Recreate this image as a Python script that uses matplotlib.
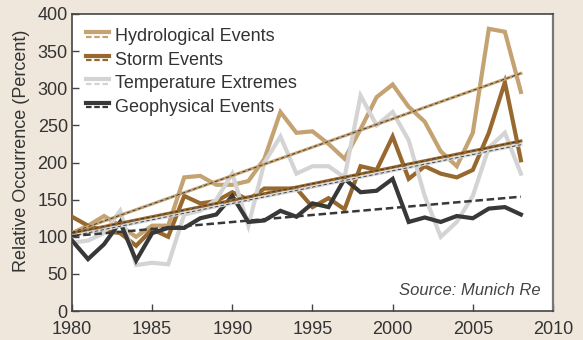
import numpy as np
from matplotlib import pyplot as plt
from matplotlib.lines import Line2D
from matplotlib.legend_handler import HandlerBase

plt.rcParams['font.family'] = ['Liberation Sans', 'DejaVu Sans']

years = np.arange(1980, 2009)

hydro = [105, 115, 128, 115, 100, 115, 115, 180, 182, 170, 170, 175, 205, 268, 240,
         242, 225, 205, 245, 288, 305, 275, 255, 215, 195, 240, 380, 376, 295]
storm = [127, 115, 108, 105, 88, 110, 100, 155, 145, 148, 160, 150, 165, 165, 165,
         140, 152, 137, 195, 190, 235, 178, 195, 185, 180, 190, 240, 308, 203]
temp = [92, 95, 105, 135, 62, 65, 63, 130, 135, 150, 185, 115, 200, 235, 185,
        195, 195, 180, 290, 250, 268, 230, 155, 100, 120, 155, 220, 240, 185]
geo = [95, 70, 90, 120, 68, 105, 112, 112, 125, 130, 155, 120, 122, 135, 127,
       145, 140, 178, 160, 162, 178, 120, 126, 120, 128, 125, 138, 140, 130]

# trend lines: value at 1980 and 2008
trend_years = [1980, 2008]
hydro_trend = [106, 320]
storm_trend = [105, 229]
temp_trend = [101, 224]
geo_trend = [101, 154]

labels = ["Hydrological Events", "Storm Events", "Temperature Extremes", "Geophysical Events"]
colors = ["#c4a272", "#98692f", "#d4d4d4", "#383838"]

bg = "#efe7dc"
fig = plt.figure(figsize=(5.83, 3.40), dpi=100, facecolor=bg)
ax = fig.add_axes([0.1235, 0.085, 0.825, 0.874])

series = [hydro, storm, temp, geo]
trends = [hydro_trend, storm_trend, temp_trend, geo_trend]

for s, c in zip(series, colors):
    ax.plot(years, s, color=c, lw=3, solid_joinstyle='miter', zorder=3)

for t, c in zip(trends, colors):
    if c == "#383838":
        ax.plot(trend_years, t, color=c, lw=1.8, ls=(0, (3, 1.5)), zorder=4)
    else:
        ax.plot(trend_years, t, color=c, lw=2.2, zorder=4)
        ax.plot(trend_years, t, color="#333333", lw=0.6, ls=(0, (4, 3)), zorder=5)


class TwoLineHandler(HandlerBase):
    def create_artists(self, legend, orig_handle, xd, yd, width, height, fontsize, trans):
        c = orig_handle.get_color()
        top = Line2D([xd, xd + width], [yd + height * 0.72] * 2, color=c, lw=3, transform=trans)
        bot = Line2D([xd, xd + width], [yd + height * 0.38] * 2, color=c, lw=1.6,
                     ls=(0, (2.5, 1.2)), transform=trans)
        return [top, bot]


handles = [Line2D([], [], color=c) for c in colors]
leg = ax.legend(handles, labels, loc='upper left', frameon=False, fontsize=13,
                handler_map={Line2D: TwoLineHandler()}, handlelength=1.25,
                handletextpad=0.35, labelspacing=0.36, borderaxespad=0.4,
                bbox_to_anchor=(0.0, 1.0))
for txt in leg.get_texts():
    txt.set_color("#333333")

ax.text(0.975, 0.045, "Source: Munich Re", transform=ax.transAxes, ha='right', va='bottom',
        fontsize=12, style='italic', color="#444444")

ax.set_xlim(1980, 2010)
ax.set_ylim(0, 400)
ax.set_xticks(np.arange(1980, 2011, 5))
ax.set_yticks(np.arange(0, 401, 50))
ax.tick_params(direction='in', length=5, width=1, colors="#444444", labelsize=13,
               labelcolor="#333333", pad=3)
ax.tick_params(axis='x', pad=7)
ax.set_ylabel("Relative Occurrence (Percent)", fontsize=13, color="#333333")
ax.yaxis.set_label_coords(-0.087, 0.54)

ax.spines['left'].set_color("#444444")
ax.spines['bottom'].set_color("#444444")
ax.spines['top'].set_color("#444444")
ax.spines['right'].set_color("#777777")
ax.spines['right'].set_linewidth(1.6)
for sp in ['left', 'bottom', 'top']:
    ax.spines[sp].set_linewidth(1.2)

plt.savefig("out.png", dpi=100, facecolor=bg)
